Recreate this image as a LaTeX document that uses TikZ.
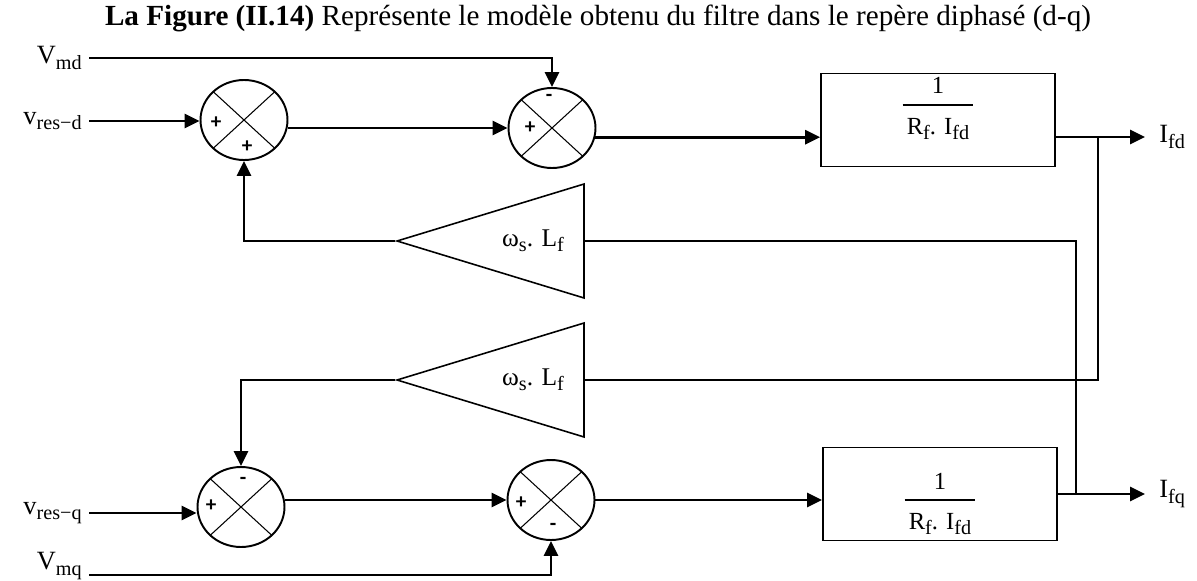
\documentclass[tikz,border=0pt]{standalone}
\usepackage{fontspec}
\setmainfont{Liberation Serif}
\newfontfamily\signfont{Carlito}
\usetikzlibrary{shapes.geometric,arrows.meta,calc}

\newcommand{\sub}[1]{\raisebox{-0.45ex}{\fontsize{11.5}{12}\selectfont #1}}
\newcommand{\filtfrac}{{\setlength{\arrayrulewidth}{1pt}%
  \begin{tabular}{@{\,}c@{\,}}1\\[1pt]\hline\rule{0pt}{16pt}R\sub{f}. I\sub{fd}\end{tabular}}}

\tikzset{
  sumnode/.style={ellipse, draw, line width=1.1pt, minimum width=1.74cm,
    minimum height=1.6cm, inner sep=0pt,
    path picture={\draw[line width=0.6pt]
      (path picture bounding box.north west) -- (path picture bounding box.south east)
      (path picture bounding box.south west) -- (path picture bounding box.north east);}},
  block/.style={rectangle, draw, line width=1.1pt, minimum width=4.68cm,
    minimum height=1.86cm, inner sep=0pt, font=\fontsize{14}{16}\selectfont},
  gain/.style={isosceles triangle, shape border rotate=180,
    isosceles triangle stretches, draw, line width=0.9pt,
    minimum width=2.28cm, minimum height=3.74cm, inner sep=0pt,
    font=\fontsize{14.5}{16}\selectfont},
  sig/.style={line width=1.5pt, -{Triangle[length=8.5pt,width=8pt]}},
  fb/.style={line width=0.7pt},
  sign/.style={font=\signfont\bfseries\fontsize{12}{12}\selectfont, inner sep=0pt},
  lbl/.style={font=\fontsize{15}{17}\selectfont, inner ysep=1pt, inner xsep=4pt}
}

\begin{document}
\begin{tikzpicture}[x=0.02cm, y=-0.02cm]
  \useasboundingbox (0,0) rectangle (1197,581);
  \node[font=\fontsize{16.6}{18}\selectfont] (title) at (598,18)
    {\textbf{La Figure (II.14)} Représente le modèle obtenu du filtre dans le repère diphasé (d-q)};

  % axe d
  \node[lbl, anchor=east] (vmd) at (89,58) {V\sub{md}};
  \node[lbl, anchor=east] (vresd) at (89,121) {v\sub{res−d}};
  \node[sumnode] (sumd1) at (244,120) {};
  \node[sumnode] (sumd2) at (552,128) {};
  \node[block] (boxd) at (938,120) {\raisebox{3pt}[0pt][0pt]{\filtfrac}};
  \coordinate (jd) at (1098,137);
  \node[lbl, anchor=west, inner xsep=8pt] (ifd) at (1145,137) {I\sub{fd}};
  \node[gain, anchor=apex] (gaind) at (395,241) {ω\sub{s}. L\sub{f}};

  \node[sign] at ($(sumd1)+(-28,3)$) {+};
  \node[sign] at ($(sumd1)+(3,27)$) {+};
  \node[sign] at ($(sumd2)+(-3,-30)$) {-};
  \node[sign] at ($(sumd2)+(-22,0)$) {+};

  % axe q
  \node[gain, anchor=apex] (gainq) at (395,380) {ω\sub{s}. L\sub{f}};
  \node[lbl, anchor=east] (vresq) at (89,513) {v\sub{res−q}};
  \node[lbl, anchor=east] (vmq) at (89,566) {V\sub{mq}};
  \node[sumnode] (sumq1) at (241,507) {};
  \node[sumnode] (sumq2) at (551,500) {};
  \node[block] (boxq) at (940,494) {\raisebox{-9pt}[0pt][0pt]{\filtfrac}};
  \coordinate (jq) at (1076,494);
  \node[lbl, anchor=west, inner xsep=8pt] (ifq) at (1145,494) {I\sub{fq}};

  \node[sign] at ($(sumq1)+(2,-26)$) {-};
  \node[sign] at ($(sumq1)+(-30,-1)$) {+};
  \node[sign] at ($(sumq2)+(-30,3)$) {+};
  \node[sign] at ($(sumq2)+(2,27)$) {-};

  \draw[sig] (vmd.east) -| (sumd2.north);
  \draw[sig] (vresd.east) -- (vresd.east -| sumd1.west);
  \draw[sig] (sumd1.east |- sumd2) -- (sumd2);
  \draw[sig] (sumd2.-12) -- (sumd2.-12 -| boxd.west);
  \draw[sig] (boxd.east |- jd) -- (jd -| ifd.west);
  \draw[sig] (gaind.apex) -| (sumd1.south);

  \draw[sig] (gainq.apex) -| (sumq1.north);
  \draw[sig] (vresq.east) -- (vresq.east -| sumq1.west);
  \draw[sig] (sumq1.east |- sumq2) -- (sumq2);
  \draw[sig] (sumq2.east) -- (sumq2.east -| boxq.west);
  \draw[sig] (boxq.east |- jq) -- (jq -| ifq.west);
  \draw[sig] ($(vmq.east)+(0,9)$) -| (sumq2.south);

  \draw[fb] (jd) |- (gainq.east);
  \draw[fb] (jq) |- (gaind.east);
\end{tikzpicture}
\end{document}
